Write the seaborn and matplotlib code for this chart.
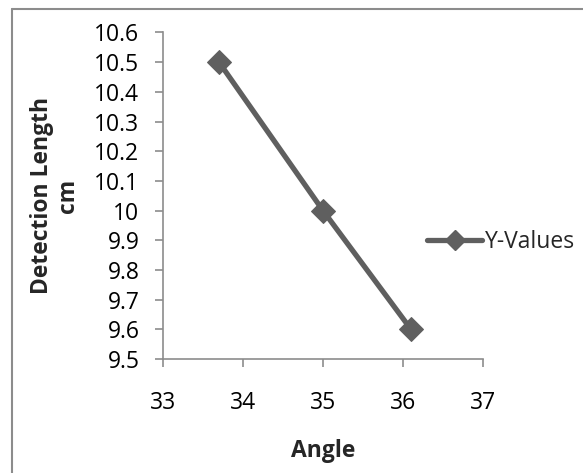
import matplotlib
matplotlib.use("Agg")
import matplotlib.pyplot as plt
import seaborn as sns
import pandas as pd
from matplotlib.lines import Line2D

angle = [33.7, 35.0, 36.1]
detection_length = [10.5, 10.0, 9.6]
series_name = "Y-Values"
x_ticks = [33, 34, 35, 36, 37]
y_ticks = [9.5, 9.6, 9.7, 9.8, 9.9, 10.0, 10.1, 10.2, 10.3, 10.4, 10.5, 10.6]
y_tick_labels = ["9.5", "9.6", "9.7", "9.8", "9.9", "10", "10.1", "10.2", "10.3", "10.4", "10.5", "10.6"]

sns.set_style("white")
plt.rcParams['font.family'] = ['Open Sans', 'DejaVu Sans']

df = pd.DataFrame({"Angle": angle, "Length": detection_length, "series": series_name})

W, H = 583, 473
fig = plt.figure(figsize=(W / 100, H / 100), dpi=100)
ax = fig.add_axes([163 / W, 1 - 359 / H, (483 - 163) / W, (359 - 32.5) / H])

FS = 16.5
line_color = "#5f5f5f"
sns.lineplot(data=df, x="Angle", y="Length", ax=ax, color=line_color, linewidth=3.8,
             marker="D", markersize=12, markeredgecolor=line_color, legend=False,
             sort=False)

ax.set_xlim(33, 37)
ax.set_ylim(9.5, 10.6)
ax.set_xticks(x_ticks)
ax.set_xticklabels([str(t) for t in x_ticks])
ax.set_yticks(y_ticks)
ax.set_yticklabels(y_tick_labels)

spine_color = "#8c8c8c"
for s in ["top", "right"]:
    ax.spines[s].set_visible(False)
for s in ["left", "bottom"]:
    ax.spines[s].set_color(spine_color)
    ax.spines[s].set_linewidth(1.2)

ax.tick_params(axis="both", which="major", direction="out", length=6, width=1.2,
               color=spine_color, labelsize=FS, labelcolor="black",
               bottom=True, left=True)
ax.tick_params(axis="x", pad=17)
ax.tick_params(axis="y", pad=11)
ax.grid(False)

ax.set_xlabel("Angle", fontsize=FS, fontweight="bold", labelpad=17)
ax.set_ylabel("Detection Length\ncm", fontsize=FS, fontweight="bold", labelpad=10,
              linespacing=1.15)

handle = Line2D([0], [0], color=line_color, linewidth=3.8, marker="D", markersize=10,
                markeredgecolor=line_color)
fig.legend([handle], [series_name], loc="center left",
           bbox_to_anchor=(416 / W, 1 - 242 / H), frameon=False, fontsize=FS,
           handlelength=2.4, handletextpad=0.1, borderpad=0)

# chart area border (left and top visible in reference)
fig.add_artist(Line2D([12 / W, 12 / W], [0, 1 - 9 / H], transform=fig.transFigure,
                      color="#8c8c8c", linewidth=1.5))
fig.add_artist(Line2D([12 / W, 1], [1 - 9 / H, 1 - 9 / H], transform=fig.transFigure,
                      color="#8c8c8c", linewidth=1.5))

fig.savefig("out.png", dpi=100, facecolor="white")
